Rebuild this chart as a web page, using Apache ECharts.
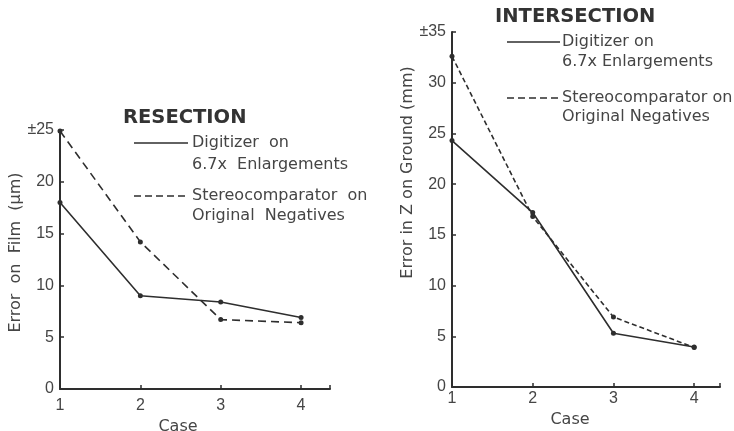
<!DOCTYPE html>
<html>
<head>
<meta charset="utf-8">
<script src="https://cdn.jsdelivr.net/npm/echarts@6/dist/echarts.min.js"></script>
<style>
html,body{margin:0;padding:0;background:#fff;}
#chart{width:734px;height:431px;}
</style>
</head>
<body>
<div id="chart"></div>
<script>
const cases = [1, 2, 3, 4];
const resectionDigitizer = [18.0, 9.0, 8.4, 6.9];
const resectionStereo = [24.9, 14.2, 6.7, 6.4];
const intersectionDigitizer = [24.3, 17.2, 5.3, 3.95];
const intersectionStereo = [32.6, 16.8, 6.9, 3.9];
const resectionTicks = ['0', '5', '10', '15', '20', '±25'];
const intersectionTicks = ['0', '5', '10', '15', '20', '25', '30', '±35'];
const seriesNames = ['Digitizer on 6.7x Enlargements', 'Stereocomparator on Original Negatives'];

const INK = '#2e2e2e';
const TXT = '#454545';
const FONT = 'DejaVu Sans';
const LFONT = 'Liberation Sans';

function pairs(ys) { return cases.map((c, i) => [c, ys[i]]); }

function xAxisCfg(gi, max, labelMargin, nameGap, namePad) {
  return {
    gridIndex: gi, type: 'value', min: 1, max: max, interval: 1,
    name: 'Case', nameLocation: 'middle', nameGap: nameGap,
    nameTextStyle: { color: TXT, fontSize: 16, fontFamily: FONT, padding: namePad },
    axisLine: { lineStyle: { color: INK, width: 2 } },
    axisTick: { inside: true, length: 4, lineStyle: { color: INK, width: 1.5 } },
    axisLabel: {
      color: TXT, fontSize: 16, fontFamily: LFONT, margin: labelMargin,
      formatter: v => (v >= 1 && v <= 4 && Number.isInteger(v)) ? String(v) : ''
    },
    splitLine: { show: false }
  };
}

function yAxisCfg(gi, max, ticks, name, nameGap, namePad) {
  return {
    gridIndex: gi, type: 'value', min: 0, max: max, interval: 5,
    name: name, nameLocation: 'middle', nameGap: nameGap, nameRotate: 90,
    nameTextStyle: { color: TXT, fontSize: 16, fontFamily: FONT, padding: namePad },
    axisLine: { show: true, lineStyle: { color: INK, width: 2 } },
    axisTick: { show: true, inside: true, length: 4, lineStyle: { color: INK, width: 1.5 } },
    axisLabel: {
      color: TXT, fontSize: 16, fontFamily: LFONT, margin: 6,
      formatter: v => ticks[Math.round(v / 5)] || ''
    },
    splitLine: { show: false }
  };
}

function lineSeries(name, gi, ys, dash) {
  return {
    name: name, type: 'line', xAxisIndex: gi, yAxisIndex: gi,
    data: pairs(ys), symbol: 'circle', symbolSize: 5,
    itemStyle: { color: INK },
    lineStyle: { color: INK, width: 1.6, type: dash || 'solid' },
    silent: true, z: 3
  };
}

function legendBlock(x0, x1, textX, y1, y1b, y2, y2b, sep) {
  const ts = { fill: TXT, fontSize: 16, fontFamily: FONT, verticalAlign: 'middle' };
  return [
    { type: 'line', shape: { x1: x0, y1: y1, x2: x1, y2: y1 }, style: { stroke: INK, lineWidth: 1.6 } },
    { type: 'text', x: textX, y: y1, style: Object.assign({ text: 'Digitizer' + sep + 'on' }, ts) },
    { type: 'text', x: textX, y: y1b, style: Object.assign({ text: '6.7x' + sep + 'Enlargements' }, ts) },
    { type: 'line', shape: { x1: x0, y1: y2, x2: x1, y2: y2 }, style: { stroke: INK, lineWidth: 1.6, lineDash: [7, 4] } },
    { type: 'text', x: textX, y: y2, style: Object.assign({ text: 'Stereocomparator' + sep + 'on' }, ts) },
    { type: 'text', x: textX, y: y2b, style: Object.assign({ text: 'Original' + sep + 'Negatives' }, ts) }
  ];
}

const chart = echarts.init(document.getElementById('chart'));
chart.setOption({
  backgroundColor: '#ffffff',
  animation: false,
  title: [
    { text: 'RESECTION', left: 123, top: 108, padding: 0,
      textStyle: { color: '#333', fontSize: 19.5, fontWeight: 'bold', fontFamily: FONT } },
    { text: 'INTERSECTION', left: 495, top: 7, padding: 0,
      textStyle: { color: '#333', fontSize: 19.5, fontWeight: 'bold', fontFamily: FONT } }
  ],
  grid: [
    { left: 60, top: 130, width: 270, height: 259, outerBoundsMode: 'none', containLabel: false },
    { left: 452, top: 32, width: 268, height: 355, outerBoundsMode: 'none', containLabel: false }
  ],
  xAxis: [
    xAxisCfg(0, 4.36, 9, 25, [0, 34, 0, 0]),
    xAxisCfg(1, 4.32, 4, 17, [0, 32, 0, 0])
  ],
  yAxis: [
    yAxisCfg(0, 25, resectionTicks, 'Error  on  Film  (μm)', 36, [0, 0, 0, 14]),
    yAxisCfg(1, 35, intersectionTicks, 'Error in Z on Ground (mm)', 26, [0, 0, 0, 74])
  ],
  series: [
    lineSeries(seriesNames[0], 0, resectionDigitizer),
    lineSeries(seriesNames[1], 0, resectionStereo, [8, 5]),
    lineSeries(seriesNames[0], 1, intersectionDigitizer),
    lineSeries(seriesNames[1], 1, intersectionStereo, [5, 3])
  ],
  graphic: [].concat(
    legendBlock(134, 188, 192, 143, 165, 196, 216, '  '),
    legendBlock(507, 560, 562, 42, 62, 98, 117, ' ')
  )
});
</script>
</body>
</html>
